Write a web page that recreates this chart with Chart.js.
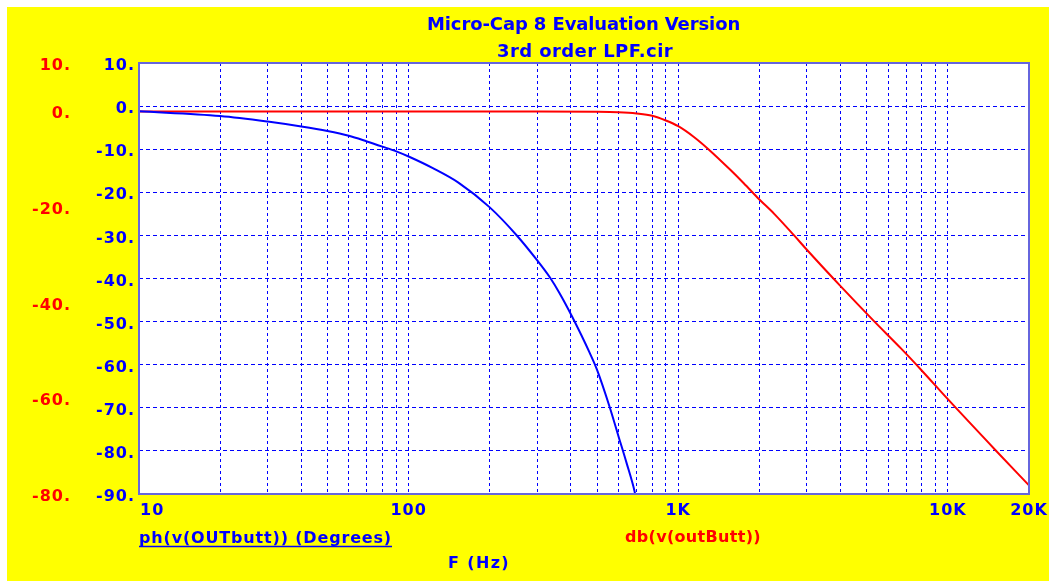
<!DOCTYPE html>
<html><head><meta charset="utf-8">
<script src="https://cdn.jsdelivr.net/npm/chart.js@4.4.1/dist/chart.umd.min.js"></script>
<style>html,body{margin:0;padding:0;background:#fff;overflow:hidden}#wrap{position:absolute;left:0;top:0;width:1049px;height:581px}</style>
</head><body><div id="wrap"><canvas id="c"></canvas></div>
<script>
// Phase curve ph(v(OUTbutt)) (Degrees)
const phaseFreq = [10,20,30,40,50,60,70,80,90,100,123,153,200,251,300,333,363,403,470,500,556,601,644,689,692];
const phaseDeg  = [-1.2,-2.3,-3.6,-4.75,-5.8,-6.9,-8.2,-9.4,-10.5,-11.7,-14.4,-17.75,-23.5,-29.9,-35.8,-39.6,-43.4,-48.7,-57.3,-61.2,-69.7,-76.7,-82.9,-89.4,-90];
// Magnitude curve db(v(outButt))
const magFreq = [10,100,300,500,600,700,800,900,1000,1140,1300,1560,1750,2000,2270,2680,3000,4000,5300,6700,8000,10000,15000,20000];
const magDb   = [-0.15,-0.15,-0.15,-0.2,-0.3,-0.55,-1.0,-2.0,-3.2,-5.4,-8.1,-12.3,-15.1,-18.5,-21.5,-25.9,-29.0,-36.6,-43.8,-49.6,-54.2,-60.2,-70.8,-78.2];
// Axes
const xGridValues = [10,20,30,40,50,60,70,80,90,100,200,300,400,500,600,700,800,900,1000,2000,3000,4000,5000,6000,7000,8000,9000,10000,20000];
const xTickLabels = {10:'10',100:'100',1000:'1K',10000:'10K',20000:'20K'};
const phaseTicks = [10,0,-10,-20,-30,-40,-50,-60,-70,-80,-90];
const dbTicks = [10,0,-20,-40,-60,-80];
const titleLines = ['Micro-Cap 8 Evaluation Version','3rd order LPF.cir'];
const phaseLabel = 'ph(v(OUTbutt)) (Degrees)';
const dbLabel = 'db(v(outButt))';
const xLabel = 'F (Hz)';

const BLUE = '#0000ff', RED = '#ff0000', YEL = '#ffff00';
const FONT = '"DejaVu Sans", sans-serif';

function fitText(ctx, text, x, y, target) {
  ctx.letterSpacing = '0px';
  const w = ctx.measureText(text).width;
  const n = text.length;
  const sp = n > 1 ? (target - w) / n : 0;
  ctx.letterSpacing = sp.toFixed(2) + 'px';
  ctx.fillText(text, x, y);
  ctx.letterSpacing = '0px';
}

const framePlugin = {
  id: 'frame',
  beforeDraw(chart) {
    const ctx = chart.ctx, a = chart.chartArea;
    ctx.save();
    ctx.fillStyle = '#fff'; ctx.fillRect(0,0,chart.width,chart.height);
    ctx.fillStyle = YEL; ctx.fillRect(7,7,chart.width-7,chart.height-7);
    ctx.fillStyle = '#fff'; ctx.fillRect(a.left,a.top,a.right-a.left,a.bottom-a.top);
    ctx.restore();
    ctx.letterSpacing = '1px';
  },
  afterDraw(chart) {
    const ctx = chart.ctx, a = chart.chartArea;
    ctx.save();
    ctx.letterSpacing = '0px';
    ctx.strokeStyle = '#6666dd'; ctx.lineWidth = 2;
    ctx.strokeRect(a.left, a.top, a.right-a.left, a.bottom-a.top);
    ctx.fillStyle = BLUE; ctx.textBaseline = 'alphabetic'; ctx.textAlign = 'left';
    ctx.font = 'bold 18px ' + FONT;
    fitText(ctx, titleLines[0], 427, 30, 313);
    fitText(ctx, titleLines[1], 497, 57, 176);
    ctx.font = 'bold 16px ' + FONT;
    fitText(ctx, phaseLabel, a.left, 543, 253);
    ctx.strokeStyle = BLUE; ctx.lineWidth = 1.5;
    ctx.beginPath(); ctx.moveTo(a.left, 546.5); ctx.lineTo(a.left + 253, 546.5); ctx.stroke();
    ctx.fillStyle = RED;
    fitText(ctx, dbLabel, 625, 542, 136);
    ctx.fillStyle = BLUE;
    fitText(ctx, xLabel, 448, 568, 62);
    ctx.restore();
  }
};

new Chart(document.getElementById('c'), {
  type: 'line',
  data: {
    datasets: [
      { label: phaseLabel, data: phaseFreq.map((f,i)=>({x:f,y:phaseDeg[i]})), yAxisID: 'yP',
        borderColor: BLUE, borderWidth: 2, pointRadius: 0, cubicInterpolationMode: 'monotone', fill: false },
      { label: dbLabel, data: magFreq.map((f,i)=>({x:f,y:magDb[i]})), yAxisID: 'yD',
        borderColor: RED, borderWidth: 2, pointRadius: 0, cubicInterpolationMode: 'monotone', fill: false }
    ]
  },
  options: {
    responsive: true, maintainAspectRatio: false, animation: false,
    layout: { padding: { top: 63, right: 20, bottom: 0, left: 7 } },
    plugins: { legend: { display: false }, tooltip: { enabled: false }, title: { display: false } },
    scales: {
      x: {
        type: 'logarithmic', min: 10, max: 20000,
        afterBuildTicks: s => { s.ticks = xGridValues.map(v => ({ value: v })); },
        afterFit: s => { s.height = 87; s.paddingRight = 0; s.paddingLeft = 0; },
        ticks: {
          autoSkip: false, maxRotation: 0, minRotation: 0, padding: 7, color: BLUE,
          font: { family: FONT, size: 16, weight: 'bold' },
          callback: v => v === 10 ? '    10' : (xTickLabels[v] || '')
        },
        grid: { color: BLUE, lineWidth: 1, drawTicks: false },
        border: { display: false, dash: [3, 3] }
      },
      yP: {
        position: 'left', weight: 0, min: -90, max: 10,
        afterBuildTicks: s => { s.ticks = phaseTicks.map(v => ({ value: v })); },
        afterFit: s => { s.width = 64; },
        ticks: { padding: 4, labelOffset: 3, color: BLUE, font: { family: FONT, size: 16, weight: 'bold' },
          callback: v => v + '.' },
        grid: { color: BLUE, lineWidth: 1, drawTicks: false },
        border: { display: false, dash: [4, 3] }
      },
      yD: {
        position: 'left', weight: 1, min: -80, max: 10,
        afterBuildTicks: s => { s.ticks = dbTicks.map(v => ({ value: v })); },
        afterFit: s => { s.width = 68; },
        ticks: { padding: 4, labelOffset: 3, color: RED, font: { family: FONT, size: 16, weight: 'bold' },
          callback: v => v + '.' },
        grid: { display: false, drawTicks: false },
        border: { display: false }
      }
    }
  },
  plugins: [framePlugin]
});
</script>
</body></html>
